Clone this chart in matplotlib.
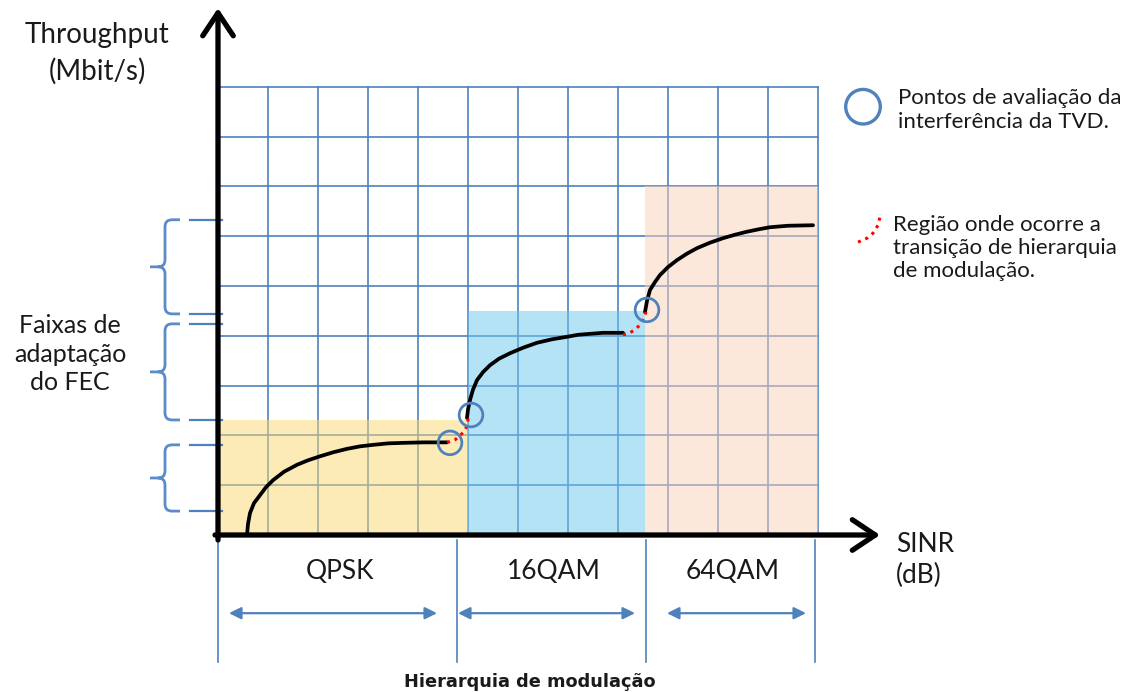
import matplotlib.pyplot as plt
from matplotlib.path import Path
from matplotlib.patches import PathPatch

plt.rcParams['font.family'] = ['Lato', 'DejaVu Sans']

# Grid: 12 x 9 cells (units on both axes)
grid_cols = 12
grid_rows = 9

# Modulation regions (shaded backgrounds)
modulations = ["QPSK", "16QAM", "64QAM"]
region_start = [0.0, 5.0, 8.54]
region_end = [5.0, 8.54, 12.0]
region_top = [2.3, 4.5, 7.0]
region_colors = ['#FBD96F', '#6DC9EF', '#FBD3B9']

# Throughput curves (grid units)
qpsk_x = [0.58, 0.60, 0.64, 0.72, 0.84, 0.96, 1.10, 1.32, 1.58, 1.80, 2.04, 2.30, 2.58, 2.84, 3.10, 3.40, 3.70, 4.10, 4.58]
qpsk_y = [0.00, 0.22, 0.44, 0.64, 0.80, 0.96, 1.10, 1.27, 1.41, 1.50, 1.58, 1.66, 1.73, 1.78, 1.81, 1.84, 1.85, 1.86, 1.86]
qam16_x = [4.98, 5.00, 5.04, 5.10, 5.18, 5.30, 5.44, 5.62, 5.84, 6.10, 6.38, 6.68, 6.98, 7.20, 7.44, 7.70, 8.10]
qam16_y = [2.35, 2.52, 2.71, 2.92, 3.11, 3.27, 3.41, 3.54, 3.65, 3.76, 3.86, 3.93, 3.98, 4.02, 4.04, 4.06, 4.06]
qam64_x = [8.54, 8.58, 8.64, 8.74, 8.84, 9.00, 9.18, 9.38, 9.58, 9.84, 10.10, 10.34, 10.58, 10.82, 11.04, 11.40, 11.90]
qam64_y = [4.48, 4.70, 4.92, 5.08, 5.22, 5.38, 5.52, 5.65, 5.76, 5.87, 5.96, 6.03, 6.09, 6.14, 6.18, 6.21, 6.22]

# Interference evaluation points (circles)
eval_x = [4.64, 5.06, 8.58]
eval_y = [1.85, 2.41, 4.52]

# Modulation transition regions (red dotted)
trans1_x = [4.58, 4.74, 4.92, 5.00, 5.00]
trans1_y = [1.86, 1.91, 2.07, 2.23, 2.41]
trans2_x = [8.10, 8.24, 8.36, 8.46, 8.52, 8.56]
trans2_y = [4.02, 4.06, 4.14, 4.24, 4.36, 4.48]

# FEC adaptation bands (curly braces on the y axis)
fec_lo = [0.48, 2.31, 4.44]
fec_hi = [1.81, 4.24, 6.33]

# Modulation hierarchy band below the x axis
mod_edges = [0.0, 4.78, 8.56, 11.94]
arrow_start = [0.22, 4.80, 8.98]
arrow_end = [4.38, 8.34, 11.76]

BLUE = '#4F81BD'
W, H = 1136, 692

fig = plt.figure(figsize=(W / 100, H / 100), dpi=100)
ax = fig.add_axes([0, 0, 1, 1])
# 50 px per grid unit horizontally, ~49.8 px vertically; origin at (218, 535) px
ax.set_xlim(-218 / 50, (W - 218) / 50)
ax.set_ylim(-(H - 535) / 49.8, 535 / 49.8)
ax.axis('off')

# grid
for i in range(grid_cols + 1):
    ax.plot([i, i], [0, grid_rows], color=BLUE, lw=1.2, zorder=1)
for j in range(grid_rows + 1):
    ax.plot([0, grid_cols], [j, j], color=BLUE, lw=1.2, zorder=1)

# shaded regions on top of the grid, semi-transparent
widths = [e - s for s, e in zip(region_start, region_end)]
ax.bar(region_start, region_top, width=widths, align='edge', color=region_colors,
       alpha=0.5, linewidth=0, zorder=2)

# curves
for cx, cy in [(qpsk_x, qpsk_y), (qam16_x, qam16_y), (qam64_x, qam64_y)]:
    ax.plot(cx, cy, color='black', lw=2.7, solid_capstyle='round', solid_joinstyle='round', zorder=4)

# transition regions
for tx, ty in [(trans1_x, trans1_y), (trans2_x, trans2_y)]:
    ax.plot(tx, ty, color='red', lw=2.2, ls=(0, (1, 1.6)), zorder=5)

# evaluation circles
ax.scatter(eval_x, eval_y, s=290, facecolors='none', edgecolors=BLUE, linewidths=2.0, zorder=6)

# axes with arrows
arrow_kw = dict(arrowstyle='->,head_length=0.75,head_width=0.5', lw=3.8, color='black',
                mutation_scale=22, shrinkA=0, shrinkB=0)
ax.annotate('', xy=(0, 10.58), xytext=(0, -0.1), arrowprops=arrow_kw, zorder=7)
ax.annotate('', xy=(13.24, 0), xytext=(-0.06, 0), arrowprops=arrow_kw, zorder=7)

# curly braces for FEC bands
brace_color = '#5B8BC9'
xs, xt, xe, r = -1.06, -1.36, -0.76, 0.14
for lo, hi in zip(fec_lo, fec_hi):
    mid = (lo + hi) / 2
    verts = [(xe, hi), (xs + r, hi), (xs, hi), (xs, hi - r), (xs, mid + r),
             (xs, mid), (xs - r, mid), (xt, mid),
             (xs - r, mid), (xs, mid), (xs, mid - r), (xs, lo + r),
             (xs, lo), (xs + r, lo), (xe, lo)]
    codes = [Path.MOVETO, Path.LINETO, Path.CURVE3, Path.CURVE3, Path.LINETO,
             Path.CURVE3, Path.CURVE3, Path.LINETO,
             Path.MOVETO, Path.CURVE3, Path.CURVE3, Path.LINETO,
             Path.CURVE3, Path.CURVE3, Path.LINETO]
    ax.add_patch(PathPatch(Path(verts, codes), fill=False, edgecolor=brace_color, lw=2.0, zorder=3))
    for yv in (lo, hi):
        ax.plot([-0.56, 0.08], [yv, yv], color=BLUE, lw=1.6, zorder=3)

# modulation hierarchy band
for xv in mod_edges:
    ax.plot([xv, xv], [-0.1, -2.55], color=BLUE, lw=1.2, zorder=1)
for s, e in zip(arrow_start, arrow_end):
    ax.annotate('', xy=(e, -1.57), xytext=(s, -1.57),
                arrowprops=dict(arrowstyle='<|-|>,head_length=0.6,head_width=0.3', lw=1.6,
                                color=BLUE, mutation_scale=12, shrinkA=0, shrinkB=0))
for name, s, e in zip(modulations, mod_edges[:-1], mod_edges[1:]):
    ax.text((s + e) / 2 + 0.05, -0.74, name, fontsize=19, ha='center', va='center', color='#1a1a1a')

# legend markers
ax.scatter([12.9], [8.6], s=620, facecolors='none', edgecolors=BLUE, linewidths=2.4)
ax.plot([12.80, 12.98, 13.10, 13.20, 13.24], [5.88, 5.96, 6.06, 6.22, 6.39],
        color='red', lw=2.2, ls=(0, (1, 1.6)))

def ftext(x, y, s, **kw):
    fig.text(x / W, 1 - y / H, s, color='#1a1a1a', **kw)

ftext(97, 53, "Throughput\n(Mbit/s)", fontsize=20, ha='center', va='center', linespacing=1.45)
ftext(70, 354, "Faixas de\nadaptação\ndo FEC", fontsize=18, ha='center', va='center', linespacing=1.3)
ftext(896, 560, "SINR\n(dB)", fontsize=19, ha='left', va='center', linespacing=1.3)
ftext(898, 110, "Pontos de avaliação da\ninterferência da TVD.", fontsize=16, ha='left', va='center',
      linespacing=1.25)
ftext(893, 248, "Região onde ocorre a\ntransição de hierarquia\nde modulação.", fontsize=16,
      ha='left', va='center', linespacing=1.2)
ftext(530, 682, "Hierarquia de modulação", fontsize=12.8, ha='center', va='center',
      family='DejaVu Sans', fontweight='bold')

fig.savefig('out.png', dpi=100, facecolor='white')
